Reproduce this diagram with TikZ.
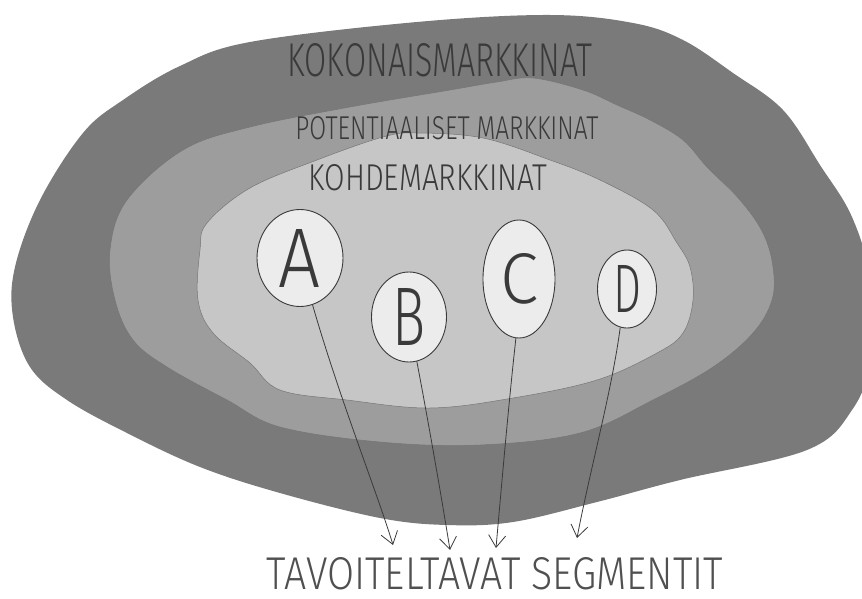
\documentclass[tikz,border=0pt]{standalone}
\usepackage{fontspec}
\setmainfont{Fira Sans}[UprightFont={* Light}]
\usetikzlibrary{shapes.geometric,arrows.meta}
\definecolor{outerc}{HTML}{7A7A7A}
\definecolor{midc}{HTML}{9D9D9D}
\definecolor{innc}{HTML}{C6C6C6}
\definecolor{bubc}{HTML}{ECECEC}
\definecolor{inkc}{HTML}{3A3A3A}
\definecolor{inkl}{HTML}{505050}
\newcommand{\fitlbl}[3]{\resizebox{#1}{#2}{#3}}
\begin{document}
\begin{tikzpicture}[x=1pt,y=-1pt,
  blobline/.style={line width=0.5pt, draw=inkc!70},
  bubble/.style={ellipse, draw=inkc, line width=0.9pt, fill=bubc, inner sep=0pt, text=inkc},
  lbl/.style={inner sep=0pt, text=inkc},
  arr/.style={draw=inkc, line width=0.8pt, -{Straight Barb[length=12pt,width=17pt,line width=0.8pt]}}]
\useasboundingbox (0,0) rectangle (862,599);
\begin{scope}
\clip (0,0) rectangle (862,599);
\fill[outerc] plot[smooth cycle, tension=0.6] coordinates {
 (550,15) (633,23) (683,40) (733,73) (783,110) (820,165) (852,217) (870,280)
 (870,360) (852,410) (807,450) (680,480) (597,502) (513,522) (447,525)
 (380,518) (280,493) (200,467) (127,433) (67,400) (30,367) (13,317)
 (15,267) (40,200) (83,133) (123,100) (180,66) (250,42) (417,22)};
\end{scope}
\filldraw[fill=midc, blobline] plot[smooth cycle, tension=0.6] coordinates {
 (250,127) (350,107) (450,90) (497,82) (533,78) (583,90) (617,105) (650,120)
 (683,140) (707,167) (740,200) (763,233) (773,267) (772,300) (753,333)
 (713,367) (653,400) (580,433) (480,445) (380,442) (280,427) (227,400)
 (167,367) (133,340) (115,300) (110,250) (127,200) (183,150)};
\filldraw[fill=innc, blobline] plot[smooth cycle, tension=0.6] coordinates {
 (417,133) (483,138) (550,160) (600,180) (653,210) (677,243) (690,267)
 (693,300) (683,333) (657,353) (597,380) (513,398) (430,408) (347,400)
 (280,390) (250,363) (213,333) (198,300) (200,250) (207,223) (250,188)
 (317,160) (383,137)};

\node[bubble, minimum width=86pt, minimum height=97pt] (A) at (300,258) {\fitlbl{42pt}{58pt}{A}};
\node[bubble, minimum width=75pt, minimum height=90pt] (B) at (409,317) {\fitlbl{33pt}{57pt}{B}};
\node[bubble, minimum width=72pt, minimum height=118pt] (C) at (519,279) {\fitlbl{38pt}{50pt}{C}};
\node[bubble, minimum width=59pt, minimum height=78pt] (D) at (627,289) {\fitlbl{28pt}{47pt}{D}};

\node[lbl] (tot) at (440,60) {\fitlbl{305pt}{33pt}{KOKONAISMARKKINAT}};
\node[lbl] (pot) at (447,128) {\fitlbl{303pt}{23pt}{POTENTIAALISET MARKKINAT}};
\node[lbl] (koh) at (428,178) {\fitlbl{239pt}{26pt}{KOHDEMARKKINAT}};
\node[lbl, text=inkl] (seg) at (495,574) {\fitlbl{456pt}{32pt}{TAVOITELTAVAT SEGMENTIT}};

\coordinate (tA) at (393,545);
\coordinate (tB) at (450,550);
\coordinate (tC) at (496,548);
\coordinate (tD) at (577,538);
\draw[arr] (A.-75) .. controls (340,400) and (378,495) .. (tA);
\draw[arr] (B.-80) .. controls (428,420) and (442,500) .. (tB);
\draw[arr] (C.-93) .. controls (509,400) and (502,480) .. (tC);
\draw[arr] (D.-100) .. controls (612,390) and (590,470) .. (tD);
\end{tikzpicture}
\end{document}
